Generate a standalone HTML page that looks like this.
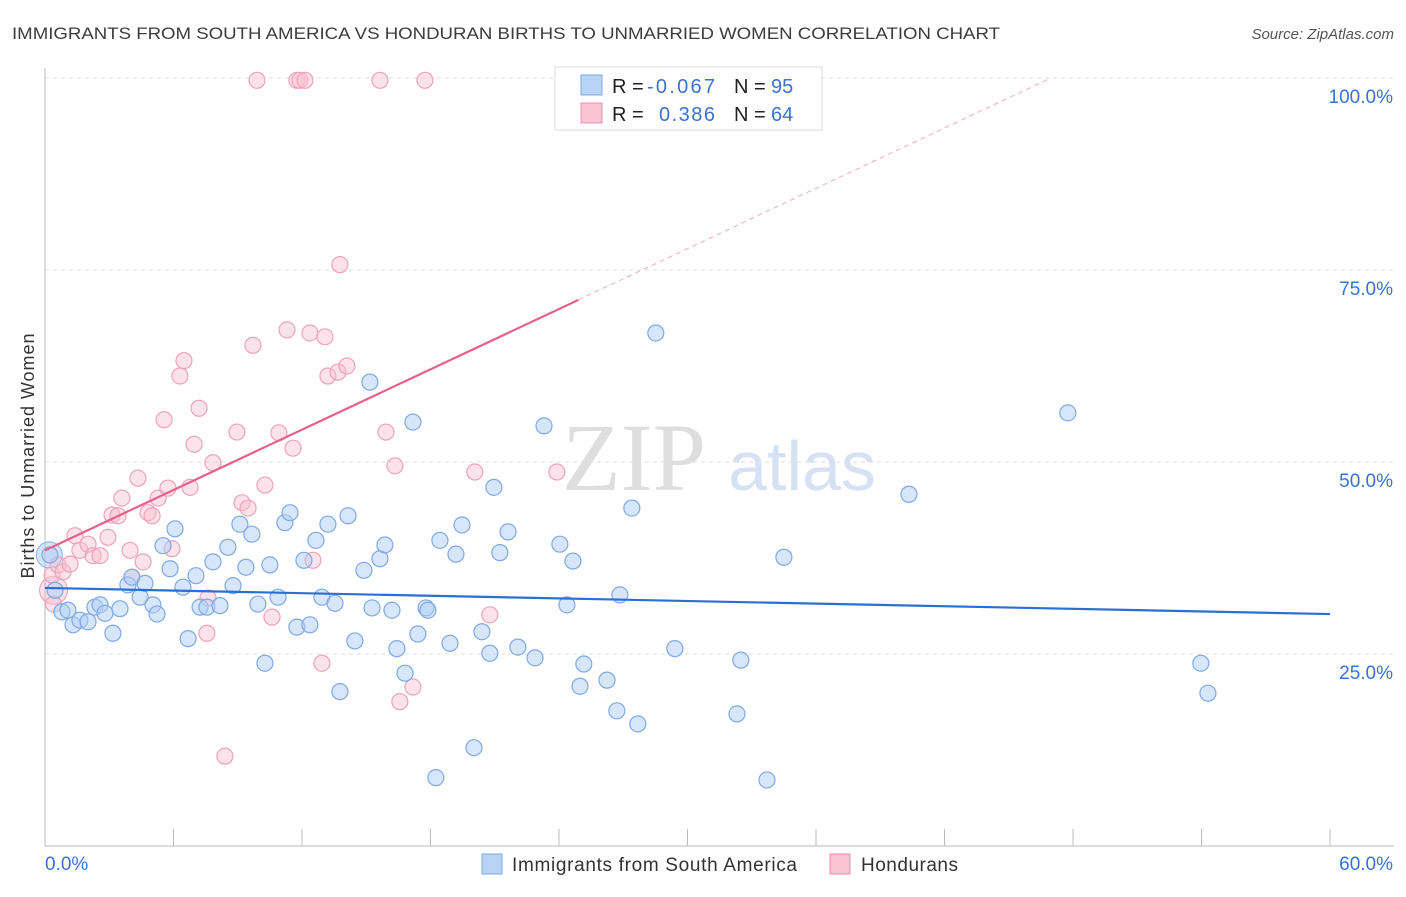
<!DOCTYPE html>
<html><head><meta charset="utf-8">
<style>
body{margin:0;background:#fff;font-family:"Liberation Sans",sans-serif;}
svg text{font-family:"Liberation Sans",sans-serif;}
</style></head>
<body>
<svg id="chart" width="1406" height="892" xmlns="http://www.w3.org/2000/svg">
<text x="12" y="39" font-size="17" fill="#3c3c3c" textLength="988" lengthAdjust="spacingAndGlyphs">IMMIGRANTS FROM SOUTH AMERICA VS HONDURAN BIRTHS TO UNMARRIED WOMEN CORRELATION CHART</text>
<text x="1394" y="39" font-size="15" fill="#555" font-style="italic" text-anchor="end">Source: ZipAtlas.com</text>
<g id="grid"></g>
<text x="634" y="490" font-size="96" fill="#dedede" text-anchor="middle" style="font-family:'Liberation Serif',serif">ZIP</text>
<text x="802" y="490" font-size="70" fill="#d6e2f3" text-anchor="middle">atlas</text>
<g id="marks"></g>
<text transform="translate(34,456) rotate(-90)" font-size="18" fill="#333" text-anchor="middle" textLength="245">Births to Unmarried Women</text>
<g>
<rect x="555" y="67" width="267" height="63" fill="#fff" stroke="#ddd"/>
<rect x="581" y="75" width="21" height="20" fill="#b9d3f5" stroke="#7aa8e6"/>
<rect x="581" y="103" width="21" height="20" fill="#fbc4d5" stroke="#f08caa"/>
<text x="612" y="93" font-size="20" fill="#222">R = <tspan fill="#3a72d4" x="647" textLength="68">-0.067</tspan></text>
<text x="734" y="93" font-size="20" fill="#222">N = <tspan fill="#3a72d4" x="771">95</tspan></text>
<text x="612" y="121" font-size="20" fill="#222">R = <tspan fill="#3a72d4" x="659" textLength="56">0.386</tspan></text>
<text x="734" y="121" font-size="20" fill="#222">N = <tspan fill="#3a72d4" x="771">64</tspan></text>
</g>
<g>
<rect x="482" y="854" width="20" height="20" fill="#b9d3f5" stroke="#7aa8e6"/>
<text x="512" y="871" font-size="19" fill="#333" textLength="285">Immigrants from South America</text>
<rect x="830" y="854" width="20" height="20" fill="#fbc4d5" stroke="#f08caa"/>
<text x="861" y="871" font-size="19" fill="#333" textLength="97">Hondurans</text>
</g>
</svg>
<script>
const yTicks=[25,50,75,100];
const yTickLabels=["25.0%","50.0%","75.0%","100.0%"];
const xTickLabels=["0.0%","60.0%"];
const blueX=[0.23,0.47,0.79,1.07,1.31,1.63,2.01,2.33,2.57,2.80,3.17,3.50,3.87,4.06,4.44,4.67,5.04,5.23,5.51,5.84,6.07,6.44,6.68,7.05,7.24,7.56,7.84,8.17,8.54,8.78,9.10,9.38,9.66,9.94,10.27,10.50,10.88,11.20,11.44,11.76,12.09,12.37,12.65,12.93,13.21,13.54,13.77,14.15,14.47,14.89,15.17,15.27,15.64,15.87,16.20,16.43,16.81,17.18,17.41,17.79,17.88,18.25,18.44,18.91,19.19,19.47,20.03,20.40,20.77,20.96,21.24,21.62,22.08,22.88,23.30,24.04,24.37,24.65,24.98,25.16,26.24,26.70,26.84,27.40,27.68,28.52,29.41,32.31,32.49,33.71,34.50,40.34,47.76,53.97,54.30];
const blueY=[37.9,33.3,30.5,30.7,28.8,29.4,29.2,31.1,31.4,30.3,27.7,30.9,34.0,35.0,32.4,34.2,31.4,30.2,39.1,36.1,41.3,33.7,27.0,35.2,31.1,31.1,37.0,31.3,38.9,33.9,41.9,36.3,40.6,31.5,23.8,36.6,32.4,42.1,43.4,28.5,37.2,28.8,39.8,32.4,41.9,31.6,20.1,43.0,26.7,35.9,60.4,31.0,37.4,39.2,30.7,25.7,22.5,55.2,27.6,31.0,30.7,8.9,39.8,26.4,38.0,41.8,12.8,27.9,25.1,46.7,38.2,40.9,25.9,24.5,54.7,39.3,31.4,37.1,20.8,23.7,21.6,17.6,32.7,44.0,15.9,66.8,25.7,17.2,24.2,8.6,37.6,45.8,56.4,23.8,19.9];
const pinkX=[0.33,0.61,0.84,1.17,1.40,1.63,2.01,2.24,2.57,2.94,3.13,3.41,3.59,3.97,4.06,4.34,4.58,4.81,5.00,5.28,5.56,5.74,5.93,6.30,6.49,6.77,6.96,7.19,7.61,7.56,7.84,8.40,8.96,9.20,9.48,9.71,10.27,10.60,10.92,11.30,11.58,12.37,12.51,12.93,13.07,13.21,13.68,13.77,14.10,15.92,16.34,16.57,17.18,20.07,20.77,23.90,9.90,11.76,11.90,12.14,15.64,17.74,24.74,0.4];
const pinkY=[35.3,36.6,35.7,36.7,40.4,38.5,39.3,37.8,37.8,40.2,43.1,43.0,45.3,38.5,35.0,47.9,37.0,43.4,43.0,45.3,55.5,46.6,38.7,61.2,63.2,46.7,52.3,57.0,32.3,27.7,49.9,11.7,53.9,44.7,44.0,65.2,47.0,29.8,53.8,67.2,51.8,66.8,37.2,23.8,66.3,61.2,61.7,75.7,62.5,53.9,49.5,18.8,20.7,48.7,30.1,48.7,99.7,99.7,99.7,99.7,99.7,99.7,94.9,31.5];
const blueTrend=[33.6,30.2];
const pinkTrend=[38.5,71.1];
const pinkSolidEnd=24.9;

const NS="http://www.w3.org/2000/svg";
const X0=45,X1=1330,Y0=846,Y100=78;
const xs=v=>X0+(X1-X0)*v/60;
const ys=v=>Y0-(Y0-Y100)*v/100;
const grid=document.getElementById('grid'),marks=document.getElementById('marks');
function mk(tag,attrs,parent){const e=document.createElementNS(NS,tag);for(const k in attrs)e.setAttribute(k,attrs[k]);parent.appendChild(e);return e;}
yTicks.forEach((t,i)=>{
 const l=mk('line',{x1:X0,x2:1394,y1:ys(t),y2:ys(t),stroke:'#dedede','stroke-dasharray':'4,4'},grid);
 
 
 const tx=mk('text',{x:1393,y:ys(t)+25,'font-size':19,fill:'#3a72d4','text-anchor':'end'},grid);
 tx.textContent=yTickLabels[i];
 
 
});
const ax=mk('line',{x1:X0,x2:X0,y1:68,y2:Y0,stroke:'#bbb'},grid);


const bx=mk('line',{x1:X0,x2:1394,y1:Y0,y2:Y0,stroke:'#bbb'},grid);


for(let i=1;i<=10;i++){
 const t=mk('line',{x1:xs(i*6),x2:xs(i*6),y1:Y0,y2:Y0-17,stroke:'#bbb'},grid);
 
 
}
[0,60].forEach((v,i)=>{
 const tx=mk('text',{x:i?1393:45,y:870,'font-size':19,fill:'#3a72d4','text-anchor':i?'end':'start'},grid);
 tx.textContent=xTickLabels[i];
 
 
});
const bb=mk('circle',{cx:xs(0.2),cy:ys(37.9),r:13,fill:'rgba(160,195,240,0.45)',stroke:'#8ab2ea'},marks);


const pb=mk('circle',{cx:xs(0.4),cy:ys(33.3),r:14,fill:'rgba(240,170,195,0.35)',stroke:'#e8a0b8'},marks);


pinkX.forEach((x,i)=>{
 const c=mk('circle',{cx:xs(x),cy:ys(pinkY[i]),r:8,fill:'rgba(248,190,208,0.45)',stroke:'#eda3bb','stroke-width':1.2},marks);
 
 
});
blueX.forEach((x,i)=>{
 const c=mk('circle',{cx:xs(x),cy:ys(blueY[i]),r:8,fill:'rgba(175,205,245,0.5)',stroke:'#7ea9e4','stroke-width':1.2},marks);
 
 
});
const bl=mk('line',{x1:xs(0),y1:ys(blueTrend[0]),x2:xs(60),y2:ys(blueTrend[1]),stroke:'#2a6fd4','stroke-width':2.2},marks);


const slope=(pinkTrend[1]-pinkTrend[0])/pinkSolidEnd;
const xEnd=(100-pinkTrend[0])/slope;
const pl=mk('line',{x1:xs(0),y1:ys(pinkTrend[0]),x2:xs(pinkSolidEnd),y2:ys(pinkTrend[1]),stroke:'#e8608c','stroke-width':2.2},marks);


const pd=mk('line',{x1:xs(pinkSolidEnd),y1:ys(pinkTrend[1]),x2:xs(xEnd),y2:ys(100),stroke:'#f0a8bf','stroke-width':1,'stroke-dasharray':'5,4'},marks);


</script>
</body></html>
